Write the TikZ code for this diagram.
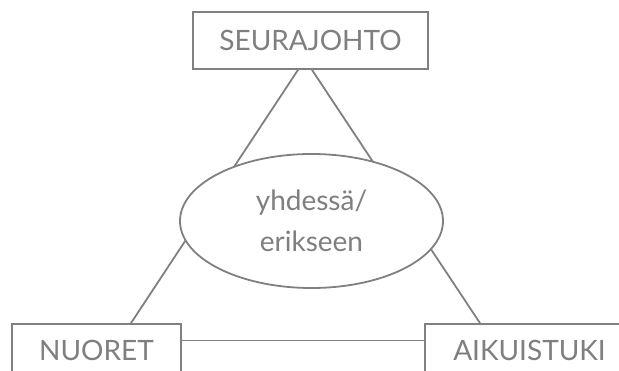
\documentclass[tikz,border=0pt]{standalone}
\usepackage{fontspec}
\setmainfont{Lato}
\usetikzlibrary{shapes.geometric,backgrounds}
\definecolor{ln}{HTML}{808080}
\definecolor{tx}{HTML}{7F7F7F}
\begin{document}
\begin{tikzpicture}[x=1pt,y=-1pt,
  box/.style={draw=ln,line width=1.8pt,fill=white,inner sep=0pt,
    font=\fontsize{28}{32}\selectfont,text=tx,text height=20pt,text depth=0pt},
  conn/.style={draw=ln,line width=1.8pt}]
\useasboundingbox (0,0) rectangle (619,371);
\node[box,minimum width=235pt,minimum height=57pt] (top) at (310.5,40.5) {SEURAJOHTO};
\node[box,minimum width=169pt,minimum height=54pt] (nuo) at (96.5,351) {NUORET};
\node[box,minimum width=209pt,minimum height=54pt] (aik) at (529.5,351) {AIKUISTUKI};
\begin{scope}[on background layer]
\draw[conn] ([xshift=-12.5pt]top.south) -- ([xshift=34.5pt]nuo.north);
\draw[conn] ([xshift=1.5pt]top.south) -- ([xshift=-49.5pt]aik.north);
\end{scope}
\draw[conn] ([yshift=10.5pt]nuo.east) -- ([yshift=10.5pt]aik.west);
\node[ellipse,draw=ln,line width=1.8pt,fill=white,minimum width=263pt,minimum height=134pt,
  inner sep=0pt,align=center,text=tx,font=\fontsize{28}{41}\selectfont] (mid) at (311.5,221) {yhdessä/\\erikseen};
\end{tikzpicture}
\end{document}
